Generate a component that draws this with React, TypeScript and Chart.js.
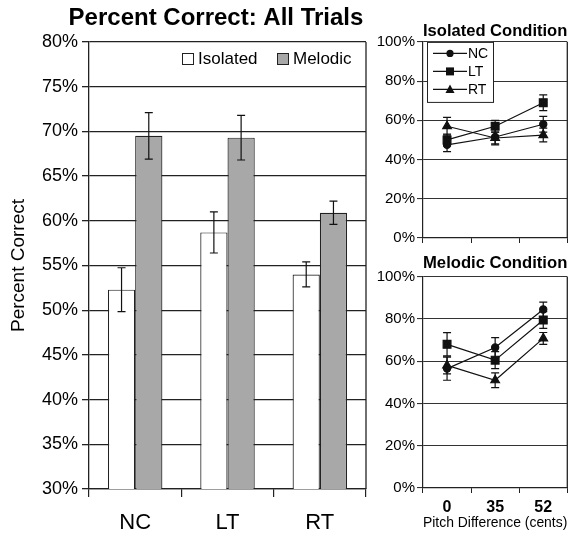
import React, { useEffect, useRef } from 'react';
import { Chart, registerables } from 'chart.js';

Chart.register(...registerables);

const FONT = '"Liberation Sans", Arial, Helvetica, sans-serif';

// ---- Main bar chart data ----
const categories = ['NC', 'LT', 'RT'];
const isolatedMeans = [52.3, 58.7, 54.0];
const isolatedErrors = [2.45, 2.3, 1.4];
const melodicMeans = [69.5, 69.3, 60.9];
const melodicErrors = [2.6, 2.5, 1.3];
const mainTitle = 'Percent Correct: All Trials';
const mainYTitle = 'Percent Correct';

// ---- Small panels data ----
const pitchLabels = ['0', '35', '52'];
const seriesNames = ['NC', 'LT', 'RT'];

const isolatedNC = [47.5, 51.5, 58.0];
const isolatedNCErr = [3.5, 4.0, 4.0];
const isolatedLT = [50.0, 57.0, 69.0];
const isolatedLTErr = [3.0, 3.0, 4.0];
const isolatedRT = [57.0, 51.0, 52.5];
const isolatedRTErr = [4.5, 3.0, 3.5];

const melodicNC = [56.5, 66.5, 84.5];
const melodicNCErr = [5.5, 4.7, 3.5];
const melodicLT = [68.0, 60.5, 79.5];
const melodicLTErr = [5.5, 4.0, 4.0];
const melodicRT = [58.0, 51.0, 70.8];
const melodicRTErr = [4.0, 3.5, 2.8];

const markerStyles = ['circle', 'rect', 'triangle'];

const errorBarPlugin = {
  id: 'errorBars',
  afterDatasetsDraw(chart: any, _args: any, opts: any) {
    const { ctx } = chart;
    const yScale = chart.scales.y;
    const cap = (opts && opts.cap) || 4;
    chart.data.datasets.forEach((ds: any, di: number) => {
      const errs = ds.errors;
      if (!errs) return;
      const meta = chart.getDatasetMeta(di);
      meta.data.forEach((el: any, i: number) => {
        const v = ds.data[i];
        const e = errs[i];
        const x = el.x;
        const top = yScale.getPixelForValue(v + e);
        const bot = yScale.getPixelForValue(v - e);
        ctx.save();
        ctx.strokeStyle = '#111';
        ctx.lineWidth = 1.2;
        ctx.beginPath();
        ctx.moveTo(x, top);
        ctx.lineTo(x, bot);
        ctx.moveTo(x - cap, top);
        ctx.lineTo(x + cap, top);
        ctx.moveTo(x - cap, bot);
        ctx.lineTo(x + cap, bot);
        ctx.stroke();
        ctx.restore();
      });
    });
  },
};

const framePlugin = {
  id: 'frameRight',
  afterDraw(chart: any) {
    const { ctx, chartArea } = chart;
    ctx.save();
    ctx.strokeStyle = '#222';
    ctx.lineWidth = 1.3;
    ctx.beginPath();
    ctx.moveTo(chartArea.right, chartArea.top);
    ctx.lineTo(chartArea.right, chartArea.bottom);
    ctx.stroke();
    ctx.restore();
  },
};

const barLegendPlugin = {
  id: 'barLegend',
  afterDraw(chart: any) {
    const { ctx, chartArea } = chart;
    const positions = [93, 188];
    ctx.save();
    ctx.font = `17px ${FONT}`;
    ctx.textBaseline = 'middle';
    ctx.textAlign = 'left';
    chart.data.datasets.forEach((ds: any, i: number) => {
      const x = chartArea.left + positions[i];
      const y = chartArea.top + 11;
      ctx.fillStyle = ds.backgroundColor;
      ctx.fillRect(x, y, 11, 11);
      ctx.strokeStyle = '#222';
      ctx.lineWidth = 1;
      ctx.strokeRect(x + 0.5, y + 0.5, 11, 11);
      ctx.fillStyle = '#000';
      ctx.fillText(ds.label, x + 16, y + 6);
    });
    ctx.restore();
  },
};

function drawMarker(ctx: any, style: string, x: number, y: number) {
  ctx.beginPath();
  if (style === 'circle') {
    ctx.arc(x, y, 3.6, 0, Math.PI * 2);
  } else if (style === 'rect') {
    ctx.rect(x - 4, y - 4, 8, 8);
  } else {
    ctx.moveTo(x, y - 5);
    ctx.lineTo(x + 4.5, y + 3.5);
    ctx.lineTo(x - 4.5, y + 3.5);
    ctx.closePath();
  }
  ctx.fill();
}

const lineLegendPlugin = {
  id: 'lineLegend',
  afterDraw(chart: any, _args: any, opts: any) {
    if (!opts || !opts.show) return;
    const { ctx, chartArea } = chart;
    const bx = chartArea.left + 4;
    const by = chartArea.top;
    ctx.save();
    ctx.fillStyle = '#fff';
    ctx.fillRect(bx, by, 66, 60);
    ctx.strokeStyle = '#222';
    ctx.lineWidth = 1;
    ctx.strokeRect(bx + 0.5, by + 0.5, 66, 60);
    ctx.font = `14px ${FONT}`;
    ctx.textBaseline = 'middle';
    ctx.textAlign = 'left';
    chart.data.datasets.forEach((ds: any, i: number) => {
      const y = by + 11.5 + i * 18;
      ctx.strokeStyle = '#111';
      ctx.lineWidth = 1.2;
      ctx.beginPath();
      ctx.moveTo(bx + 6, y);
      ctx.lineTo(bx + 40, y);
      ctx.stroke();
      ctx.fillStyle = '#111';
      drawMarker(ctx, ds.pointStyle, bx + 23, y);
      ctx.fillStyle = '#000';
      ctx.fillText(ds.label, bx + 41, y + 1);
    });
    ctx.restore();
  },
};

function makeLineConfig(
  title: string,
  series: number[][],
  errors: number[][],
  showX: boolean,
  titlePad: { top: number; bottom: number },
  xHeight: number
) {
  return {
    type: 'line',
    data: {
      labels: pitchLabels,
      datasets: series.map((s, i) => ({
        label: seriesNames[i],
        data: s,
        errors: errors[i],
        borderColor: '#111',
        backgroundColor: '#111',
        pointBackgroundColor: '#111',
        pointBorderColor: '#111',
        borderWidth: 1.2,
        pointStyle: markerStyles[i],
        pointRadius: markerStyles[i] === 'rect' ? 5.5 : markerStyles[i] === 'triangle' ? 5 : 3.6,
        tension: 0,
        fill: false,
      })),
    },
    options: {
      responsive: false,
      animation: false,
      layout: { padding: { left: 0, right: 2, top: 0, bottom: 0 } },
      plugins: {
        legend: { display: false },
        tooltip: { enabled: false },
        title: {
          display: true,
          text: title,
          fullSize: false,
          color: '#000',
          font: { family: FONT, size: 17, weight: 'bold' },
          padding: titlePad,
        },
        errorBars: { cap: 4 },
        lineLegend: { show: !showX },
      },
      scales: {
        x: {
          offset: true,
          grid: { offset: true, drawOnChartArea: false, drawTicks: true, tickLength: 5, color: '#222', lineWidth: 1 },
          border: { color: '#222', width: 1.2 },
          ticks: { display: showX, color: '#000', font: { family: FONT, size: 16, weight: 'bold' }, padding: 5 },
          title: {
            display: showX,
            text: 'Pitch Difference (cents)',
            color: '#000',
            font: { family: FONT, size: 15 },
            padding: { top: 0, bottom: 3.7 },
          },
          afterFit: (s: any) => {
            s.height = xHeight;
          },
        },
        y: {
          min: 0,
          max: 100,
          ticks: {
            stepSize: 20,
            callback: (v: any) => v + '%',
            color: '#000',
            font: { family: FONT, size: 15 },
            padding: 2,
          },
          grid: { color: '#333', lineWidth: 1.1, tickLength: 6 },
          border: { color: '#222', width: 1.2 },
          afterFit: (s: any) => {
            s.width = 63;
          },
        },
      },
    },
    plugins: [errorBarPlugin, framePlugin, lineLegendPlugin],
  };
}

function ChartCanvas({ config, style, width, height }: any) {
  const ref = useRef<HTMLCanvasElement>(null);
  useEffect(() => {
    if (!ref.current) return;
    const chart = new Chart(ref.current, config);
    return () => chart.destroy();
  }, []);
  return <canvas ref={ref} width={width} height={height} style={{ position: 'absolute', width, height, ...style }} />;
}

export default function App() {
  const mainConfig: any = {
    type: 'bar',
    data: {
      labels: categories,
      datasets: [
        {
          label: 'Isolated',
          data: isolatedMeans,
          errors: isolatedErrors,
          backgroundColor: '#ffffff',
          borderColor: '#222',
          borderWidth: 1.2,
          categoryPercentage: 0.59,
          barPercentage: 1,
        },
        {
          label: 'Melodic',
          data: melodicMeans,
          errors: melodicErrors,
          backgroundColor: '#a8a8a8',
          borderColor: '#222',
          borderWidth: 1.2,
          categoryPercentage: 0.59,
          barPercentage: 1,
        },
      ],
    },
    options: {
      responsive: false,
      animation: false,
      layout: { padding: { left: 0, right: 0, top: 0, bottom: 0 } },
      plugins: {
        legend: { display: false },
        tooltip: { enabled: false },
        title: {
          display: true,
          text: mainTitle,
          color: '#000',
          font: { family: FONT, size: 24, weight: 'bold' },
          padding: { top: 4, bottom: 9.2 },
        },
        errorBars: { cap: 4 },
      },
      scales: {
        x: {
          grid: { display: true, offset: true, drawOnChartArea: false, drawTicks: true, tickLength: 8, color: '#222', lineWidth: 1.2 },
          border: { color: '#222', width: 1.3 },
          ticks: { color: '#000', font: { family: FONT, size: 22 }, padding: 13 },
          afterFit: (s: any) => {
            s.height = 47;
          },
        },
        y: {
          min: 30,
          max: 80,
          ticks: {
            stepSize: 5,
            callback: (v: any) => v + '%',
            color: '#000',
            font: { family: FONT, size: 18 },
            padding: 4,
          },
          grid: { color: '#222', lineWidth: 1.3, tickLength: 7 },
          border: { color: '#222', width: 1.3 },
          title: {
            display: true,
            text: mainYTitle,
            color: '#000',
            font: { family: FONT, size: 19 },
            padding: { top: 7, bottom: 0 },
          },
          afterFit: (s: any) => {
            s.width = 89;
          },
        },
        spacer: {
          type: 'linear',
          position: 'right',
          display: true,
          grid: { display: false, drawOnChartArea: false, drawTicks: false },
          border: { display: false },
          ticks: { display: false },
          afterFit: (s: any) => {
            s.width = 66;
          },
        },
      },
    },
    plugins: [errorBarPlugin, framePlugin, barLegendPlugin],
  };

  const isoConfig = makeLineConfig(
    'Isolated Condition',
    [isolatedNC, isolatedLT, isolatedRT],
    [isolatedNCErr, isolatedLTErr, isolatedRTErr],
    false,
    { top: 21.5, bottom: 0 },
    12
  );
  const melConfig = makeLineConfig(
    'Melodic Condition',
    [melodicNC, melodicLT, melodicRT],
    [melodicNCErr, melodicLTErr, melodicRTErr],
    true,
    { top: 2.8, bottom: 3.5 },
    48
  );

  return (
    <div style={{ position: 'absolute', left: 0, top: 0, width: 574, height: 536, background: '#fff', overflow: 'hidden' }}>
      <ChartCanvas config={mainConfig} width={432} height={536} style={{ left: 0, top: 0 }} />
      <ChartCanvas config={isoConfig} width={214} height={250} style={{ left: 360, top: 0 }} />
      <ChartCanvas config={melConfig} width={214} height={286} style={{ left: 360, top: 250 }} />
    </div>
  );
}
